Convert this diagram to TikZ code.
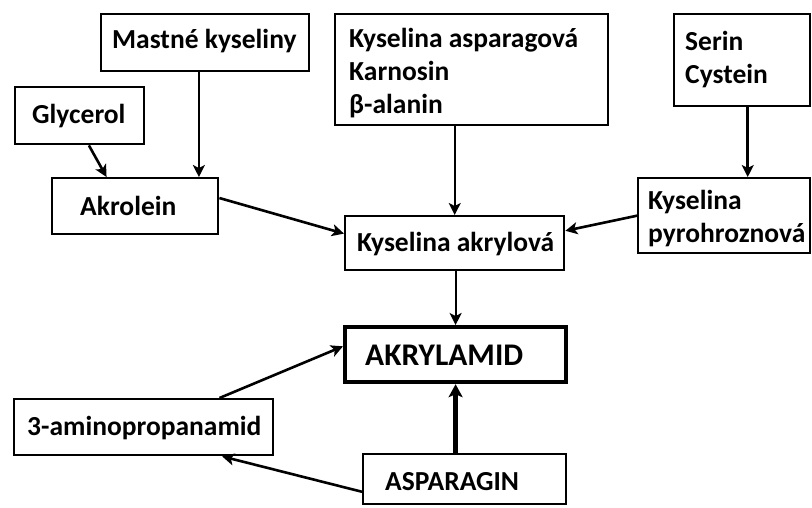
\documentclass[tikz,border=0pt]{standalone}
\usepackage{fontspec}
\setmainfont{Carlito}
\usetikzlibrary{arrows.meta,calc}
\begin{document}
\begin{tikzpicture}[x=1pt,y=-1pt,
  box/.style={draw, line width=2.4pt, rectangle, anchor=north west, inner sep=0pt},
  thickbox/.style={box, line width=4.2pt},
  lbl/.style={anchor=base west, inner sep=0pt, align=left,
    font=\fontsize{27.5}{33}\selectfont\bfseries},
  biglbl/.style={lbl, font=\fontsize{31.5}{36}\selectfont\bfseries},
  arr/.style={line width=2.6pt, -{Stealth[length=12pt,width=12pt,inset=3pt]}},
  thinarr/.style={arr, line width=2pt},
  thickarr/.style={arr, line width=4.5pt, -{Stealth[length=13pt,width=14pt,inset=3pt]}}]
\useasboundingbox (0,0) rectangle (812,507);
\fill[white] (0,0) rectangle (812,507);

% boxes
\node[box, minimum width=208pt, minimum height=57pt] (mk) at (100,13) {};
\node[box, minimum width=129pt, minimum height=57pt] (gly) at (14,86) {};
\node[box, minimum width=166pt, minimum height=56pt] (akr) at (51,177) {};
\node[box, minimum width=273pt, minimum height=111pt] (asp) at (334,13) {};
\node[box, minimum width=219pt, minimum height=54pt] (akryl) at (344,215) {};
\node[box, minimum width=136pt, minimum height=92pt] (ser) at (673,13) {};
\node[box, minimum width=172pt, minimum height=75pt] (pyro) at (637,177) {};
\node[thickbox, minimum width=221pt, minimum height=55pt] (amid) at (343,325) {};
\node[box, minimum width=203pt, minimum height=50pt] (asn) at (362,453) {};
\node[box, minimum width=259pt, minimum height=56pt] (amino) at (13,398) {};

% texts (base anchor = baseline of the last line)
\node[lbl] (tmk) at (112,48) {Mastné kyseliny};
\node[lbl] (tgly) at (32,123) {Glycerol};
\node[lbl] (takr) at (80,215) {Akrolein};
\node[lbl] (tasp) at (349,113) {Kyselina asparagová\\Karnosin\\β-alanin};
\node[lbl] (takryl) at (357,251) {Kyselina akrylová};
\node[lbl] (tser) at (685,83) {Serin\\Cystein};
\node[lbl] (tpyro) at (648,242) {Kyselina\\pyrohroznová};
\node[biglbl] (tamid) at (365,365) {AKRYLAMID};
\node[lbl] (tasn) at (385,490) {ASPARAGIN};
\node[lbl] (tamino) at (27,435) {3-aminopropanamid};

% connectors
\draw[arr] ($(gly.south west)!0.57!(gly.south east)$) -- ($(akr.north west)!0.33!(akr.north east)$);
\coordinate (mks) at ($(mk.south west)!0.47!(mk.south east)$);
\draw[thinarr] (mks) -- (mks |- akr.north);
\draw[thinarr] (akryl.north |- asp.south) -- (akryl.north);
\draw[arr] ($(akr.north east)!0.36!(akr.south east)$) -- ($(akryl.north west)!0.33!(akryl.south west)$);
\coordinate (sers) at ($(ser.south west)!0.54!(ser.south east)$);
\draw[arr] (sers) -- (sers |- pyro.north);
\draw[arr] (pyro.west) -- ($(akryl.north east)!0.28!(akryl.south east)$);
\draw[thinarr] (amid.north |- akryl.south) -- (amid.north);
\draw[thickarr] (amid.south |- asn.north) -- (amid.south);
\draw[arr] ($(amino.north west)!0.79!(amino.north east)$) -- ($(amid.north west)!0.36!(amid.south west)$);
\draw[arr] ($(asn.north west)!0.74!(asn.south west)$) -- ($(amino.south west)!0.8!(amino.south east)$);
\end{tikzpicture}
\end{document}
